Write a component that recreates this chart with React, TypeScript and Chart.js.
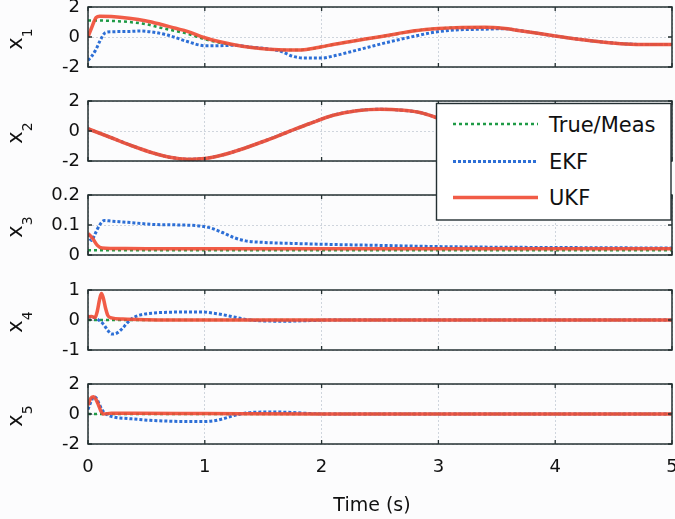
import React, { useEffect, useRef } from "react";
import { Chart, registerables } from "chart.js";
Chart.register(...registerables);

// ---------- data ----------
const timeTicks = [0, 1, 2, 3, 4, 5];
const xTickLabels = ["0", "1", "2", "3", "4", "5"];
const xAxisTitle = "Time (s)";
const legendLabels = ["True/Meas", "EKF", "UKF"];
const stateSubscripts = ["1", "2", "3", "4", "5"];

const yTicks1 = [-2, 0, 2];
const yTickLabels1 = ["-2", "0", "2"];
const yTicks2 = [-2, 0, 2];
const yTickLabels2 = ["-2", "0", "2"];
const yTicks3 = [0, 0.1, 0.2];
const yTickLabels3 = ["0", "0.1", "0.2"];
const yTicks4 = [-1, 0, 1];
const yTickLabels4 = ["-1", "0", "1"];
const yTicks5 = [-2, 0, 2];
const yTickLabels5 = ["-2", "0", "2"];

// x1
const t1Ukf = [0, 0.03, 0.07, 0.1, 0.2, 0.35, 0.5, 0.62, 0.75, 0.85, 1.0, 1.12, 1.25, 1.4, 1.55, 1.7, 1.85, 2.0, 2.1, 2.25, 2.5, 2.65, 2.8, 3.0, 3.2, 3.4, 3.55, 3.7, 3.85, 4.0, 4.2, 4.4, 4.6, 4.8, 5.0];
const x1Ukf = [0.0, 0.6, 1.3, 1.38, 1.36, 1.25, 1.07, 0.85, 0.58, 0.38, -0.05, -0.3, -0.52, -0.7, -0.82, -0.87, -0.85, -0.65, -0.5, -0.3, 0.02, 0.22, 0.42, 0.57, 0.64, 0.65, 0.58, 0.42, 0.25, 0.07, -0.15, -0.33, -0.46, -0.5, -0.5];
const t1True = [0, 0.1, 0.2, 0.35, 0.5, 0.62, 0.75, 0.85, 1.0, 1.12, 1.25, 1.4, 1.55, 1.7, 1.85, 2.0, 2.1, 2.25, 2.5, 2.65, 2.8, 3.0, 3.2, 3.4, 3.55, 3.7, 3.85, 4.0, 4.2, 4.4, 4.6, 4.8, 5.0];
const x1True = [1.1, 1.1, 1.07, 1.0, 0.85, 0.62, 0.4, 0.22, -0.15, -0.36, -0.53, -0.7, -0.82, -0.87, -0.85, -0.65, -0.5, -0.3, 0.02, 0.22, 0.42, 0.57, 0.64, 0.65, 0.58, 0.42, 0.25, 0.07, -0.15, -0.33, -0.46, -0.5, -0.5];
const t1Ekf = [0, 0.03, 0.07, 0.1, 0.15, 0.2, 0.35, 0.45, 0.55, 0.68, 0.85, 1.0, 1.12, 1.25, 1.4, 1.55, 1.65, 1.75, 1.85, 2.0, 2.1, 2.25, 2.4, 2.55, 2.65, 2.8, 2.95, 3.15, 3.4, 3.55, 3.7, 3.85, 4.0, 4.2, 4.4, 4.6, 4.8, 5.0];
const x1Ekf = [-1.55, -1.3, -0.8, -0.3, 0.3, 0.35, 0.37, 0.4, 0.33, 0.13, -0.3, -0.58, -0.58, -0.55, -0.68, -0.8, -0.95, -1.28, -1.4, -1.4, -1.27, -0.98, -0.68, -0.38, -0.2, 0.06, 0.3, 0.47, 0.52, 0.55, 0.42, 0.25, 0.07, -0.15, -0.33, -0.46, -0.5, -0.5];

// x2
const t2 = [0, 0.2, 0.4, 0.55, 0.7, 0.85, 1.0, 1.15, 1.3, 1.5, 1.7, 1.9, 2.1, 2.3, 2.5, 2.7, 2.85, 3.0, 3.2, 3.4, 3.6, 3.8, 4.0, 4.2, 4.4, 4.6, 4.8, 5.0];
const x2Ukf = [0.15, -0.45, -1.05, -1.45, -1.75, -1.88, -1.83, -1.6, -1.25, -0.7, -0.1, 0.5, 1.05, 1.35, 1.45, 1.38, 1.22, 0.85, 0.3, -0.3, -0.85, -1.35, -1.7, -1.85, -1.75, -1.4, -0.9, -0.3];
const x2Ekf = [0.15, -0.45, -1.05, -1.45, -1.75, -1.88, -1.83, -1.6, -1.25, -0.7, -0.1, 0.5, 1.05, 1.35, 1.45, 1.38, 1.22, 0.85, 0.3, -0.3, -0.85, -1.35, -1.7, -1.85, -1.75, -1.4, -0.9, -0.3];
const x2True = [0.15, -0.45, -1.05, -1.45, -1.75, -1.88, -1.83, -1.6, -1.25, -0.7, -0.1, 0.5, 1.05, 1.35, 1.45, 1.38, 1.22, 0.85, 0.3, -0.3, -0.85, -1.35, -1.7, -1.85, -1.75, -1.4, -0.9, -0.3];

// x3
const t3Ukf = [0, 0.04, 0.08, 0.12, 0.2, 0.5, 1.0, 1.5, 2.0, 2.5, 3.0, 3.5, 4.0, 4.5, 5.0];
const x3Ukf = [0.072, 0.055, 0.032, 0.023, 0.022, 0.021, 0.021, 0.021, 0.021, 0.021, 0.021, 0.021, 0.021, 0.021, 0.021];
const t3Ekf = [0, 0.03, 0.06, 0.1, 0.14, 0.2, 0.3, 0.4, 0.55, 0.8, 0.95, 1.05, 1.15, 1.25, 1.35, 1.5, 1.8, 2.1, 2.5, 3.0, 3.5, 4.0, 4.5, 5.0];
const x3Ekf = [0.07, 0.048, 0.07, 0.1, 0.115, 0.113, 0.11, 0.107, 0.102, 0.1, 0.097, 0.09, 0.075, 0.058, 0.047, 0.042, 0.038, 0.035, 0.032, 0.028, 0.026, 0.025, 0.024, 0.023];
const t3True = [0, 1, 2, 3, 4, 5];
const x3True = [0.016, 0.016, 0.016, 0.016, 0.016, 0.016];

// x4
const t4Ukf = [0, 0.03, 0.06, 0.08, 0.1, 0.115, 0.13, 0.15, 0.17, 0.2, 0.3, 0.5, 1.0, 2.0, 3.0, 4.0, 5.0];
const x4Ukf = [0.1, 0.12, 0.08, 0.3, 0.7, 0.88, 0.75, 0.4, 0.15, 0.07, 0.03, 0.01, 0.0, 0.0, 0.0, 0.0, 0.0];
const t4Ekf = [0, 0.05, 0.09, 0.13, 0.17, 0.2, 0.24, 0.29, 0.34, 0.39, 0.45, 0.55, 0.7, 0.85, 0.97, 1.05, 1.15, 1.25, 1.35, 1.5, 1.7, 1.9, 2.1, 3.0, 4.0, 5.0];
const x4Ekf = [0.1, 0.08, 0.0, -0.13, -0.35, -0.47, -0.45, -0.3, -0.08, 0.08, 0.17, 0.23, 0.26, 0.27, 0.27, 0.24, 0.18, 0.1, 0.02, -0.03, -0.04, -0.02, 0.0, 0.0, 0.0, 0.0];
const t4True = [0, 1, 2, 3, 4, 5];
const x4True = [0, 0, 0, 0, 0, 0];

// x5
const t5Ukf = [0, 0.02, 0.045, 0.07, 0.09, 0.11, 0.13, 0.2, 0.4, 1.0, 2.0, 3.0, 4.0, 5.0];
const x5Ukf = [0.6, 1.0, 1.15, 0.95, 0.6, 0.2, 0.0, 0.05, 0.05, 0.03, 0.0, 0.0, 0.0, 0.0];
const t5Ekf = [0, 0.03, 0.05, 0.07, 0.1, 0.12, 0.17, 0.23, 0.34, 0.53, 0.7, 0.85, 1.0, 1.08, 1.15, 1.25, 1.35, 1.45, 1.6, 1.75, 1.9, 2.1, 3.0, 4.0, 5.0];
const x5Ekf = [0.3, 0.9, 1.15, 1.07, 0.6, 0.27, -0.07, -0.22, -0.3, -0.42, -0.48, -0.5, -0.5, -0.45, -0.33, -0.1, 0.06, 0.12, 0.13, 0.1, 0.03, 0.0, 0.0, 0.0, 0.0];
const t5True = [0, 1, 2, 3, 4, 5];
const x5True = [0, 0, 0, 0, 0, 0];

const panels = [
  { yMin: -2, yMax: 2, yTicks: yTicks1, yLabels: yTickLabels1, tT: t1True, vT: x1True, tE: t1Ekf, vE: x1Ekf, tU: t1Ukf, vU: x1Ukf },
  { yMin: -2, yMax: 2, yTicks: yTicks2, yLabels: yTickLabels2, tT: t2, vT: x2True, tE: t2, vE: x2Ekf, tU: t2, vU: x2Ukf },
  { yMin: 0, yMax: 0.2, yTicks: yTicks3, yLabels: yTickLabels3, tT: t3True, vT: x3True, tE: t3Ekf, vE: x3Ekf, tU: t3Ukf, vU: x3Ukf },
  { yMin: -1, yMax: 1, yTicks: yTicks4, yLabels: yTickLabels4, tT: t4True, vT: x4True, tE: t4Ekf, vE: x4Ekf, tU: t4Ukf, vU: x4Ukf },
  { yMin: -2, yMax: 2, yTicks: yTicks5, yLabels: yTickLabels5, tT: t5True, vT: x5True, tE: t5Ekf, vE: x5Ekf, tU: t5Ukf, vU: x5Ukf },
];

// ---------- styling / layout ----------
const FONT = "'DejaVu Sans', 'Liberation Sans', sans-serif";
const TEXT = "#111111";
const FRAME = "#243032";
const GRID = "rgba(170,180,195,0.55)";
const C_TRUE = "#1f9a46";
const C_EKF = "#2d6fd6";
const C_UKF = "rgba(240,78,55,0.92)";
const W = 675;
const H = 519;
const PLOT_H = 60;
const PAD_T = 15;
const PLOT_TOPS = [7, 101, 195, 290, 384];
const LEFT = 88;
const RIGHT_PAD = 3;

const zip = (t: number[], v: number[]) => t.map((x, i) => ({ x, y: v[i] }));

export default function App() {
  const refs = useRef<(HTMLCanvasElement | null)[]>([]);

  useEffect(() => {
    const charts: Chart[] = [];
    panels.forEach((p, i) => {
      const canvas = refs.current[i];
      if (!canvas) return;
      const isLast = i === panels.length - 1;
      const canvasH = isLast ? H - (PLOT_TOPS[i] - PAD_T) : PLOT_H + 2 * PAD_T;
      const bottomH = canvasH - PAD_T - PLOT_H;
      const sub = stateSubscripts[i];

      const framePlugin = {
        id: "frame" + i,
        afterDraw(chart: any) {
          const { ctx, chartArea: a, scales } = chart;
          ctx.save();
          ctx.strokeStyle = FRAME;
          ctx.lineWidth = 1.5;
          ctx.strokeRect(a.left, a.top, a.right - a.left, a.bottom - a.top);
          ctx.lineWidth = 1.3;
          ctx.beginPath();
          for (const v of timeTicks) {
            const x = scales.x.getPixelForValue(v);
            ctx.moveTo(x, a.top);
            ctx.lineTo(x, a.top + 4);
            ctx.moveTo(x, a.bottom);
            ctx.lineTo(x, a.bottom - 4);
          }
          for (const v of p.yTicks) {
            const y = scales.y.getPixelForValue(v);
            ctx.moveTo(a.left, y);
            ctx.lineTo(a.left + 4, y);
            ctx.moveTo(a.right, y);
            ctx.lineTo(a.right - 4, y);
          }
          ctx.stroke();

          // y label: x with subscript, rotated
          const cy = (a.top + a.bottom) / 2 + 2;
          ctx.translate(22, cy);
          ctx.rotate(-Math.PI / 2);
          ctx.fillStyle = TEXT;
          ctx.textBaseline = "alphabetic";
          ctx.textAlign = "left";
          ctx.font = `21px ${FONT}`;
          const wx = ctx.measureText("x").width;
          ctx.font = `14px ${FONT}`;
          const ws = ctx.measureText(sub).width;
          const start = -(wx + ws) / 2;
          ctx.font = `21px ${FONT}`;
          ctx.fillText("x", start, 0);
          ctx.font = `14px ${FONT}`;
          ctx.fillText(sub, start + wx, 10);
          ctx.restore();

          if (isLast) {
            ctx.save();
            ctx.fillStyle = TEXT;
            ctx.font = `19px ${FONT}`;
            ctx.textAlign = "center";
            ctx.textBaseline = "alphabetic";
            ctx.fillText(xAxisTitle, 372, 142);
            ctx.restore();
          }
        },
      };

      const chart = new Chart(canvas, {
        type: "line",
        data: {
          datasets: [
            {
              label: legendLabels[2],
              data: zip(p.tU, p.vU),
              borderColor: C_UKF,
              borderWidth: 3.5,
              pointRadius: 0,
              cubicInterpolationMode: "monotone",
              order: 0,
            },
            {
              label: legendLabels[1],
              data: zip(p.tE, p.vE),
              borderColor: C_EKF,
              borderWidth: 3,
              borderDash: [3, 2],
              pointRadius: 0,
              cubicInterpolationMode: "monotone",
              order: 1,
            },
            {
              label: legendLabels[0],
              data: zip(p.tT, p.vT),
              borderColor: C_TRUE,
              borderWidth: 2.5,
              borderDash: [3, 3],
              pointRadius: 0,
              cubicInterpolationMode: "monotone",
              order: 2,
            },
          ],
        },
        options: {
          responsive: false,
          animation: false,
          devicePixelRatio: 1,
          layout: { padding: { top: PAD_T, right: RIGHT_PAD, left: 0, bottom: 0 } },
          plugins: { legend: { display: false }, tooltip: { enabled: false } },
          scales: {
            x: {
              type: "linear",
              min: 0,
              max: 5,
              afterBuildTicks: (s: any) => {
                s.ticks = timeTicks.map((v) => ({ value: v }));
              },
              ticks: {
                display: isLast,
                autoSkip: false,
                maxRotation: 0,
                padding: 13,
                color: TEXT,
                font: { family: FONT, size: 18 },
                callback: (_v: any, idx: number) => xTickLabels[idx],
              },
              grid: { drawTicks: false, color: GRID, lineWidth: 1 },
              border: { display: false, dash: [2, 2] },
              afterFit: (s: any) => {
                s.height = bottomH;
                s.paddingLeft = 0;
                s.paddingRight = 0;
              },
            },
            y: {
              type: "linear",
              min: p.yMin,
              max: p.yMax,
              afterBuildTicks: (s: any) => {
                s.ticks = p.yTicks.map((v) => ({ value: v }));
              },
              ticks: {
                padding: 8,
                color: TEXT,
                font: { family: FONT, size: 18 },
                callback: (_v: any, idx: number) => p.yLabels[idx],
              },
              grid: { drawTicks: false, color: GRID, lineWidth: 1 },
              border: { display: false, dash: [2, 2] },
              afterFit: (s: any) => {
                s.width = LEFT;
                s.paddingTop = 0;
                s.paddingBottom = 0;
              },
            },
          },
        },
        plugins: [framePlugin],
      } as any);
      charts.push(chart);
    });
    return () => charts.forEach((c) => c.destroy());
  }, []);

  const legendRows = [124, 161.5, 197.5];
  const legendStyles = [
    { color: C_TRUE, dash: "3 3", width: 2.5 },
    { color: C_EKF, dash: "3 2", width: 3 },
    { color: C_UKF, dash: "", width: 3.5 },
  ];

  return (
    <div style={{ position: "absolute", left: 0, top: 0, width: W, height: H, background: "#fcfcfd", overflow: "hidden" }}>
      {panels.map((_, i) => {
        const isLast = i === panels.length - 1;
        const top = PLOT_TOPS[i] - PAD_T;
        const ch = isLast ? H - top : PLOT_H + 2 * PAD_T;
        return (
          <canvas
            key={i}
            ref={(el) => {
              refs.current[i] = el;
            }}
            width={W}
            height={ch}
            style={{ position: "absolute", left: 0, top, width: W, height: ch }}
          />
        );
      })}
      <svg width={W} height={H} style={{ position: "absolute", left: 0, top: 0, pointerEvents: "none" }}>
        <rect x={436.5} y={103.5} width={234.5} height={116.5} fill="#ffffff" stroke={FRAME} strokeWidth={1.4} />
        {legendLabels.map((lab, i) => (
          <g key={lab}>
            <line
              x1={453}
              x2={538}
              y1={legendRows[i]}
              y2={legendRows[i]}
              stroke={legendStyles[i].color}
              strokeWidth={legendStyles[i].width}
              strokeDasharray={legendStyles[i].dash || undefined}
            />
            <text x={549} y={legendRows[i] + 7.6} fontFamily={FONT} fontSize={21} fill={TEXT}>
              {lab}
            </text>
          </g>
        ))}
      </svg>
    </div>
  );
}
